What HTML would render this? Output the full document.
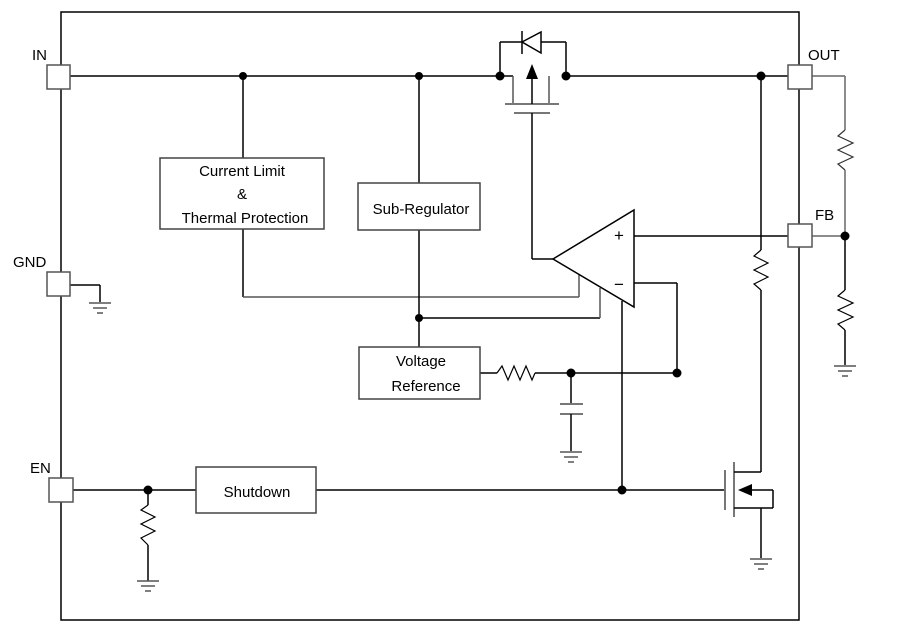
<!DOCTYPE html>
<html><head><meta charset="utf-8"><style>
html,body{margin:0;padding:0;background:#fff;}
svg{display:block;}
text{font-family:"Liberation Sans",sans-serif;font-size:15px;fill:#000;}
</style></head><body>
<svg width="898" height="634" viewBox="0 0 898 634" xmlns="http://www.w3.org/2000/svg">
<g fill="none" stroke="#000" stroke-width="1.5">
<rect x="61" y="12" width="738" height="608"/>
<line x1="70" y1="76" x2="500" y2="76"/>
<line x1="566" y1="76" x2="788" y2="76"/>
<line x1="243" y1="76" x2="243" y2="158"/>
<line x1="243" y1="229" x2="243" y2="297"/>
<line x1="243" y1="297" x2="579" y2="297" stroke="#555"/>
<line x1="579" y1="297" x2="579" y2="275" stroke="#555"/>
<line x1="419" y1="76" x2="419" y2="183"/>
<line x1="419" y1="230" x2="419" y2="347"/>
<line x1="419" y1="318" x2="600" y2="318"/>
<line x1="600" y1="318" x2="600" y2="288" stroke="#555"/>
<line x1="500" y1="76" x2="500" y2="42"/>
<line x1="500" y1="42" x2="522" y2="42"/>
<line x1="541" y1="42" x2="566" y2="42"/>
<line x1="566" y1="42" x2="566" y2="76"/>
<polygon points="541,32 541,53 522,42" />
<line x1="522" y1="31" x2="522" y2="54"/>
<line x1="500" y1="76" x2="513" y2="76"/>
<line x1="513" y1="76" x2="513" y2="103" stroke="#555"/>
<line x1="549" y1="76" x2="549" y2="103" stroke="#555"/>
<line x1="505" y1="104" x2="559" y2="104" stroke="#777" stroke-width="2"/>
<line x1="514" y1="113" x2="550" y2="113" stroke="#777" stroke-width="2"/>
<line x1="532" y1="104" x2="532" y2="74"/>
<line x1="532" y1="113" x2="532" y2="259"/>
<line x1="532" y1="259" x2="553" y2="259"/>
<polygon points="553,259 634,210 634,307"/>
<line x1="634" y1="236" x2="788" y2="236"/>
<line x1="634" y1="283" x2="677" y2="283"/>
<line x1="677" y1="283" x2="677" y2="373"/>
<line x1="622" y1="301" x2="622" y2="490"/>
<line x1="480" y1="373" x2="497" y2="373"/>
<polyline points="497,373 502,366 508,380 514,366 520,380 526,366 532,380 535,373" stroke-width="1.2"/>
<line x1="535" y1="373" x2="677" y2="373"/>
<line x1="571" y1="373" x2="571" y2="404"/>
<line x1="560" y1="404" x2="583" y2="404" stroke="#777" stroke-width="2"/>
<line x1="560" y1="414" x2="583" y2="414" stroke="#777" stroke-width="2"/>
<line x1="571" y1="414" x2="571" y2="451"/>
<line x1="73" y1="490" x2="196" y2="490"/>
<line x1="316" y1="490" x2="725" y2="490"/>
<line x1="148" y1="490" x2="148" y2="505"/>
<polyline points="148,505 141,510 155,517 141,524 155,531 141,538 148,545" stroke-width="1.2"/>
<line x1="148" y1="545" x2="148" y2="581"/>
<line x1="725" y1="470" x2="725" y2="510" stroke="#777" stroke-width="2"/>
<line x1="734" y1="462" x2="734" y2="517" stroke="#777" stroke-width="2"/>
<line x1="734" y1="472" x2="761" y2="472"/>
<line x1="761" y1="472" x2="761" y2="290"/>
<polyline points="761,290 754,284 768,277 754,270 768,263 754,256 761,250" stroke-width="1.2"/>
<line x1="761" y1="250" x2="761" y2="76"/>
<line x1="734" y1="508" x2="773" y2="508"/>
<line x1="773" y1="508" x2="773" y2="490"/>
<line x1="773" y1="490" x2="748" y2="490"/>
<line x1="761" y1="508" x2="761" y2="558"/>
<line x1="812" y1="76" x2="845" y2="76" stroke="#666"/>
<line x1="845" y1="76" x2="845" y2="130" stroke="#666"/>
<polyline points="845,130 838,136 853,143 838,150 853,157 838,164 845,170" stroke="#333" stroke-width="1.2"/>
<line x1="845" y1="170" x2="845" y2="236" stroke="#666"/>
<line x1="812" y1="236" x2="845" y2="236" stroke="#666"/>
<line x1="845" y1="236" x2="845" y2="290"/>
<polyline points="845,290 838,296 853,303 838,310 853,317 838,324 845,330" stroke-width="1.2"/>
<line x1="845" y1="330" x2="845" y2="365"/>
<line x1="70" y1="285" x2="100" y2="285"/>
<line x1="100" y1="285" x2="100" y2="302"/>
</g>
<polygon points="532,64 526,79 538,79" fill="#000"/>
<polygon points="738,490 752,484 752,496" fill="#000"/>
<g stroke="#555" stroke-width="1.5">
<line x1="89" y1="303" x2="111" y2="303"/><line x1="93" y1="308" x2="107" y2="308"/><line x1="97" y1="313" x2="103" y2="313"/>
<line x1="560" y1="452" x2="582" y2="452"/><line x1="564" y1="457" x2="578" y2="457"/><line x1="568" y1="462" x2="574" y2="462"/>
<line x1="137" y1="581" x2="159" y2="581"/><line x1="141" y1="586" x2="155" y2="586"/><line x1="145" y1="591" x2="151" y2="591"/>
<line x1="750" y1="559" x2="772" y2="559"/><line x1="754" y1="564" x2="768" y2="564"/><line x1="758" y1="569" x2="764" y2="569"/>
<line x1="834" y1="366" x2="856" y2="366"/><line x1="838" y1="371" x2="852" y2="371"/><line x1="842" y1="376" x2="848" y2="376"/>
</g>
<g fill="#fff" stroke="#444" stroke-width="1.5">
<rect x="160" y="158" width="164" height="71"/>
<rect x="358" y="183" width="122" height="47"/>
<rect x="359" y="347" width="121" height="52"/>
<rect x="196" y="467" width="120" height="46"/>
<rect x="47" y="65" width="23" height="24" stroke="#555"/>
<rect x="47" y="272" width="23" height="24" stroke="#555"/>
<rect x="49" y="478" width="24" height="24" stroke="#555"/>
<rect x="788" y="65" width="24" height="24" stroke="#555"/>
<rect x="788" y="224" width="24" height="23" stroke="#555"/>
</g>
<g fill="#000">
<circle cx="243" cy="76" r="4"/><circle cx="419" cy="76" r="4"/>
<circle cx="500" cy="76" r="4.5"/><circle cx="566" cy="76" r="4.5"/>
<circle cx="761" cy="76" r="4.5"/><circle cx="845" cy="236" r="4.5"/>
<circle cx="419" cy="318" r="4"/><circle cx="571" cy="373" r="4.5"/>
<circle cx="677" cy="373" r="4.5"/><circle cx="622" cy="490" r="4.5"/>
<circle cx="148" cy="490" r="4.5"/>
</g>
<text x="242" y="176" text-anchor="middle">Current Limit</text>
<text x="242" y="199" text-anchor="middle">&amp;</text>
<text x="245" y="223" text-anchor="middle">Thermal Protection</text>
<text x="421" y="214" text-anchor="middle">Sub-Regulator</text>
<text x="421" y="366" text-anchor="middle">Voltage</text>
<text x="426" y="391" text-anchor="middle">Reference</text>
<text x="257" y="497" text-anchor="middle">Shutdown</text>
<text x="32" y="60">IN</text>
<text x="13" y="267">GND</text>
<text x="30" y="473">EN</text>
<text x="808" y="60">OUT</text>
<text x="815" y="220">FB</text>
<text x="614" y="241" style="font-size:17px">+</text>
<text x="614" y="290" style="font-size:17px">−</text>
</svg>
</body></html>
